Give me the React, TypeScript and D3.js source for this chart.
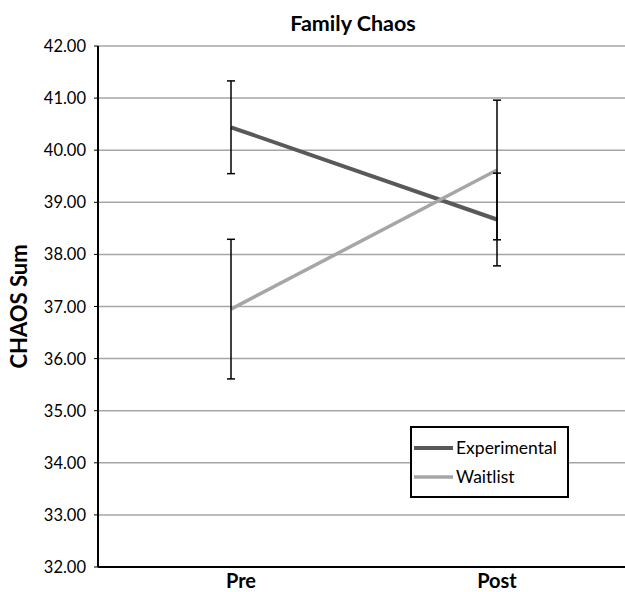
import * as d3 from 'd3'

const categories = ['Pre', 'Post']
const yTicks = [32, 33, 34, 35, 36, 37, 38, 39, 40, 41, 42]

const experimental = [40.44, 38.67]
const experimentalErr = [0.89, 0.89]
const waitlist = [36.95, 39.62]
const waitlistErr = [1.34, 1.34]

const series = [
  { name: 'Experimental', values: experimental, err: experimentalErr, color: '#595959', width: 4 },
  { name: 'Waitlist', values: waitlist, err: waitlistErr, color: '#a6a6a6', width: 3.5 },
]

const W = 625
const H = 592
const left = 98
const right = 630
const top = 46
const bottom = 567
const font = 'Lato, "Open Sans", sans-serif'

const App = () => {
  const x = d3.scaleBand().domain(categories).range([left, right])
  const y = d3.scaleLinear().domain([32, 42]).range([bottom, top])
  const cx = (c: string) => (x(c) ?? 0) + x.bandwidth() / 2

  const line = d3
    .line<number>()
    .x((_, i) => cx(categories[i]))
    .y(d => y(d))

  return (
    <svg width={W} height={H} style={{ display: 'block', position: 'absolute', left: 0, top: 0 }}>
      <rect width={W} height={H} fill="#fff" />
      <text x={353} y={31} textAnchor="middle" fontFamily={font} fontWeight="bold" fontSize={21.5}>
        Family Chaos
      </text>
      {yTicks.map(t => (
        <g key={t}>
          {t !== 32 && (
            <line x1={left} x2={right} y1={y(t)} y2={y(t)} stroke="#a6a6a6" strokeWidth={1.5} />
          )}
          <text x={86} y={y(t) + 6} textAnchor="end" fontFamily={font} fontSize={16.5}>
            {t.toFixed(2)}
          </text>
          <line x1={left - 4} x2={left} y1={y(t)} y2={y(t)} stroke="#000" strokeWidth={1} />
        </g>
      ))}
      <line x1={left} x2={left} y1={top} y2={bottom} stroke="#000" strokeWidth={2} />
      <line x1={left} x2={right} y1={bottom} y2={bottom} stroke="#000" strokeWidth={2} />
      {categories.map((c, i) => (
        <text
          key={c}
          x={cx(c) + (i === 0 ? 10 : 0)}
          y={588}
          textAnchor="middle"
          fontFamily={font}
          fontWeight="bold"
          fontSize={20}
        >
          {c}
        </text>
      ))}
      <text
        transform={`translate(27,${(top + bottom) / 2}) rotate(-90)`}
        textAnchor="middle"
        fontFamily={font}
        fontWeight="bold"
        fontSize={22}
      >
        CHAOS Sum
      </text>
      {series.map(s => (
        <path key={s.name} d={line(s.values) ?? ''} fill="none" stroke={s.color} strokeWidth={s.width} />
      ))}
      {series.map(s =>
        s.values.map((v, i) => {
          const px = cx(categories[i])
          return (
            <g key={s.name + i} stroke="#000" strokeWidth={1.5}>
              <line x1={px} x2={px} y1={y(v + s.err[i])} y2={y(v - s.err[i])} />
              <line x1={px - 4} x2={px + 4} y1={y(v + s.err[i])} y2={y(v + s.err[i])} />
              <line x1={px - 4} x2={px + 4} y1={y(v - s.err[i])} y2={y(v - s.err[i])} />
            </g>
          )
        })
      )}
      <rect x={411} y={427} width={157} height={70} fill="#fff" stroke="#000" strokeWidth={2} />
      {series.map((s, i) => (
        <g key={s.name}>
          <line x1={414} x2={453} y1={448 + i * 29} y2={448 + i * 29} stroke={s.color} strokeWidth={s.width} />
          <text x={456} y={454 + i * 29} fontFamily={font} fontSize={17.5}>
            {s.name}
          </text>
        </g>
      ))}
    </svg>
  )
}

export default App
